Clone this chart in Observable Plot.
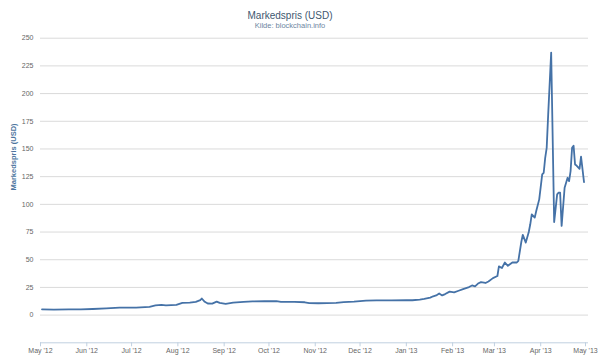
<!DOCTYPE html>
<html>
<head>
<meta charset="utf-8">
<script src="https://cdn.jsdelivr.net/npm/d3@7"></script>
<script src="https://cdn.jsdelivr.net/npm/@observablehq/plot@0.6"></script>
<style>
  body { margin: 0; background: #fff; font-family: "Liberation Sans", Arial, sans-serif; }
  #wrap { width: 600px; height: 357px; overflow: hidden; }
  #head { position: relative; width: 600px; height: 32px; }
  #title { position: absolute; left: 0; width: 580px; top: 10px; text-align: center; font-size: 10px; line-height: 12px; color: #3E576F; }
  #sub { position: absolute; left: 0; width: 580px; top: 21px; text-align: center; font-size: 7.5px; line-height: 9px; color: #6D869F; }
  #chart svg { display: block; }
</style>
</head>
<body>
<div id="wrap">
  <div id="head"><div id="title"></div><div id="sub"></div></div>
  <div id="chart"></div>
</div>
<script>
const titleText = "Markedspris (USD)";
const subtitleText = "Kilde: blockchain.info";
const yAxisTitle = "Markedspris (USD)";
const yTicks = [0, 25, 50, 75, 100, 125, 150, 175, 200, 225, 250];
const xTickDates = ["2012-05-01","2012-06-01","2012-07-01","2012-08-01","2012-09-01","2012-10-01",
  "2012-11-01","2012-12-01","2013-01-01","2013-02-01","2013-03-01","2013-04-01","2013-05-01"];

const dates = [
  "2012-05-02","2012-05-10","2012-05-20","2012-05-28","2012-06-05","2012-06-14","2012-06-23",
  "2012-07-04","2012-07-13","2012-07-17","2012-07-21","2012-07-24","2012-07-31",
  "2012-08-04","2012-08-09","2012-08-13","2012-08-16","2012-08-17","2012-08-19","2012-08-21",
  "2012-08-24","2012-08-27","2012-08-29","2012-09-02","2012-09-07","2012-09-14","2012-09-20",
  "2012-09-28","2012-10-06","2012-10-09","2012-10-18","2012-10-25","2012-10-28","2012-11-03",
  "2012-11-09","2012-11-15","2012-11-20","2012-11-27","2012-12-05","2012-12-12","2012-12-22",
  "2013-01-01","2013-01-05","2013-01-10","2013-01-13","2013-01-17","2013-01-19","2013-01-21",
  "2013-01-23","2013-01-25","2013-01-27","2013-01-30","2013-02-02","2013-02-05","2013-02-08",
  "2013-02-12","2013-02-14","2013-02-16","2013-02-18","2013-02-20","2013-02-23","2013-02-25",
  "2013-02-28","2013-03-03","2013-03-04","2013-03-06","2013-03-08","2013-03-10","2013-03-13",
  "2013-03-16","2013-03-17","2013-03-19","2013-03-20","2013-03-22","2013-03-24","2013-03-25",
  "2013-03-26","2013-03-28","2013-03-29","2013-03-31","2013-04-02","2013-04-03","2013-04-04",
  "2013-04-05","2013-04-06","2013-04-08","2013-04-10","2013-04-12","2013-04-13","2013-04-14",
  "2013-04-15","2013-04-17","2013-04-19","2013-04-20","2013-04-21","2013-04-22","2013-04-23",
  "2013-04-24","2013-04-25","2013-04-27","2013-04-28","2013-04-30"
];
const prices = [
  5.2, 5.0, 5.1, 5.2, 5.5, 6.1, 6.7,
  6.8, 7.4, 8.7, 9.3, 8.8, 9.2,
  11.0, 11.2, 11.9, 13.5, 15.0, 12.0, 10.5,
  10.4, 12.2, 11.0, 10.2, 11.2, 12.0, 12.4,
  12.5, 12.6, 12.0, 11.9, 11.6, 10.8, 10.7,
  10.9, 11.0, 11.8, 12.2, 13.1, 13.3, 13.3,
  13.4, 13.4, 14.0, 14.6, 15.8, 17.0, 17.8,
  19.5, 17.8, 19.0, 21.2, 20.5, 22.0, 23.5,
  25.3, 26.8, 26.0, 28.5, 29.8, 29.0, 30.4,
  33.4, 35.3, 44.0, 42.5, 47.5, 44.5, 47.5,
  47.5, 49.0, 66.0, 72.5, 65.5, 75.0, 82.0,
  91.0, 88.0, 94.0, 104.5, 127.0, 128.5, 142.0,
  151.0, 181.0, 237.0, 84.0, 109.0, 110.5, 110.5,
  80.5, 115.0, 124.0, 121.0, 130.0, 151.0, 153.0,
  136.0, 135.0, 132.0, 143.0, 120.0
];

const data = dates.map((d, i) => ({date: new Date(d), value: prices[i]}));
const xTicks = xTickDates.map(d => new Date(d));

document.getElementById("title").textContent = titleText;
document.getElementById("sub").textContent = subtitleText;

const chart = Plot.plot({
  width: 600,
  height: 325,
  marginLeft: 40,
  marginRight: 12,
  marginTop: 5.7,
  marginBottom: 14.7,
  style: {fontFamily: "'Liberation Sans', Arial, sans-serif", fontSize: "7px", background: "#fff", color: "#666", overflow: "visible"},
  x: {type: "utc", domain: [new Date("2012-05-01"), new Date("2013-05-03")]},
  y: {domain: [-25, 250]},
  marks: [
    Plot.gridY(yTicks, {stroke: "#dadada", strokeOpacity: 1}),
    Plot.ruleY([-25], {stroke: "#C0D0E0", strokeWidth: 1}),
    Plot.axisY(yTicks, {tickSize: 0, tickPadding: 7, label: null, fill: "#666", fontSize: 7}),
    Plot.axisX(xTicks, {tickSize: 4, tickPadding: 1, label: null, stroke: "#C0D0E0", fill: "#666", fontSize: 7, tickFormat: d3.utcFormat("%b '%y")}),
    Plot.lineY(data, {x: "date", y: "value", stroke: "#4572A7", strokeWidth: 1.8, strokeLinejoin: "round"}),
    Plot.text([yAxisTitle], {frameAnchor: "left", rotate: -90, dx: -27, fill: "#4d759e", fontWeight: "bold", fontSize: 7.5})
  ]
});
document.getElementById("chart").appendChild(chart);
</script>
</body>
</html>
